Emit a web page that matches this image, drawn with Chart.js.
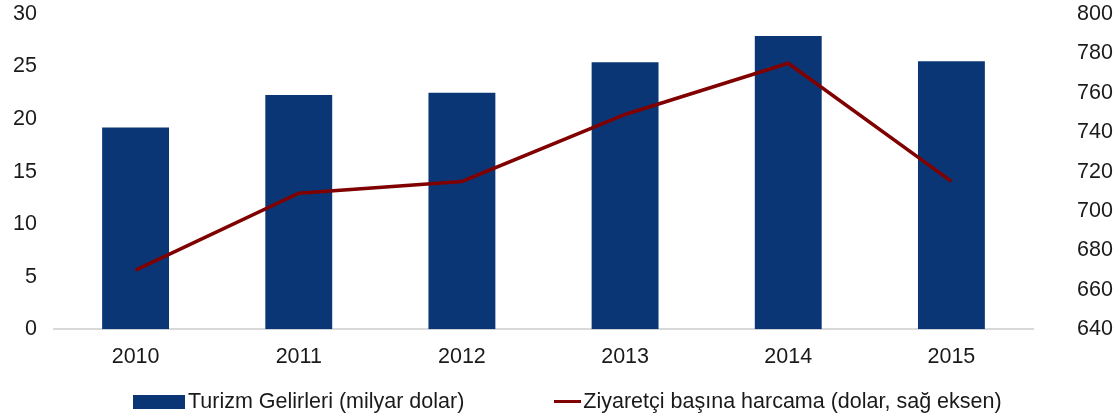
<!DOCTYPE html>
<html>
<head>
<meta charset="utf-8">
<script src="https://cdn.jsdelivr.net/npm/chart.js@4"></script>
<style>
  body { margin: 0; background: #fff; }
  #wrap { position: relative; width: 1115px; height: 419px; font-family: "Liberation Sans", Arial, sans-serif; }
  #legend { position: absolute; left: 133px; top: 389px; display: flex; align-items: center; font-size: 21.5px; color: #1a1a1a; white-space: nowrap; }
  .item { display: flex; align-items: center; }
  .box { width: 52px; height: 14px; background: #0b3675; margin-right: 3px; }
  .ln { width: 27px; height: 3px; background: #800000; margin-right: 2px; margin-left: 90px; }
</style>
</head>
<body>
<div id="wrap">
  <canvas id="tourismChart" width="1115" height="419"></canvas>
  <div id="legend"></div>
</div>
<script>
const years = ["2010", "2011", "2012", "2013", "2014", "2015"];
const revenue = [19.2, 22.3, 22.5, 25.4, 27.9, 25.5];           // milyar dolar
const spendPerVisitor = [670, 709, 715, 749, 775, 715];         // dolar, sag eksen
const revenueLabel = "Turizm Gelirleri (milyar dolar)";
const spendLabel = "Ziyaretçi başına harcama (dolar, sağ eksen)";

const barColor = "#0b3675";
const lineColor = "#800000";

// legend in html so the two markers can have different widths
document.getElementById("legend").innerHTML =
  '<div class="item"><span class="box"></span>' + revenueLabel + '</div>' +
  '<div class="item"><span class="ln"></span>' + spendLabel + '</div>';

Chart.defaults.font.family = '"Liberation Sans", Arial, sans-serif';
Chart.defaults.font.size = 21.5;
Chart.defaults.color = "#1a1a1a";

// fixed axis widths, and drop the extra top/bottom padding that tick padding adds
const fixWidth = w => s => { s.width = w; s.paddingTop = 0; s.paddingBottom = 0; };

const ctx = document.getElementById("tourismChart").getContext("2d");
new Chart(ctx, {
  type: "bar",
  data: {
    labels: years,
    datasets: [
      {
        type: "line",
        label: spendLabel,
        data: spendPerVisitor,
        yAxisID: "yRight",
        borderColor: lineColor,
        borderWidth: 3.5,
        pointRadius: 0,
        tension: 0,
        order: 0
      },
      {
        label: revenueLabel,
        data: revenue,
        yAxisID: "y",
        backgroundColor: barColor,
        barPercentage: 0.41,
        categoryPercentage: 1,
        order: 1
      }
    ]
  },
  options: {
    responsive: false,
    animation: false,
    layout: { padding: { top: 14, bottom: 34, left: 0, right: 0 } },
    plugins: { legend: { display: false }, tooltip: { enabled: false } },
    scales: {
      x: {
        grid: { display: false, drawTicks: false },
        border: { display: true, color: "#d9d9d9", width: 2 },
        ticks: { padding: 15 }
      },
      y: {
        position: "left",
        min: 0, max: 30,
        grid: { display: false, drawTicks: false },
        border: { display: false },
        ticks: { stepSize: 5, padding: 17 },
        afterFit: fixWidth(54)
      },
      yRight: {
        position: "right",
        min: 640, max: 800,
        grid: { display: false, drawTicks: false },
        border: { display: false },
        ticks: { stepSize: 20, padding: 44 },
        afterFit: fixWidth(82)
      }
    }
  }
});
</script>
</body>
</html>
